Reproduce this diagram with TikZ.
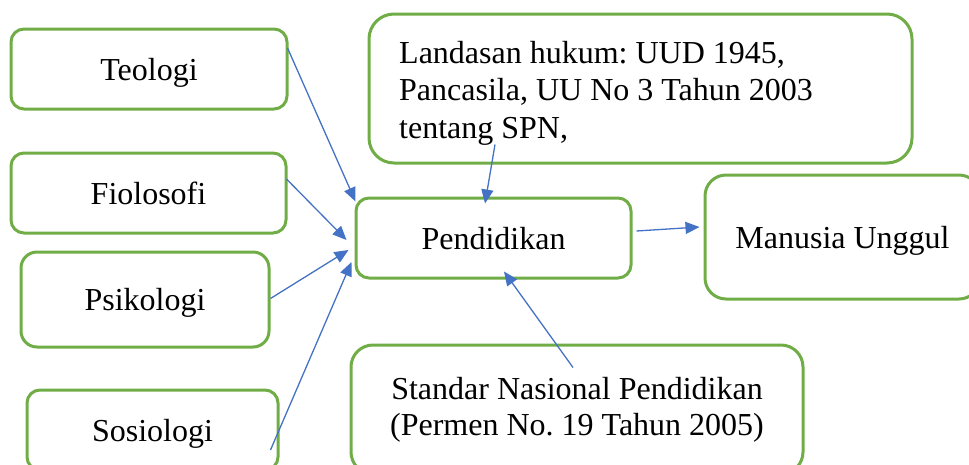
\documentclass[tikz,border=0pt]{standalone}
\usepackage{fontspec}
\setmainfont{Liberation Serif}
\usetikzlibrary{arrows.meta,calc}
\definecolor{boxgreen}{HTML}{70AD47}
\definecolor{linkblue}{HTML}{4472C4}
\frenchspacing
\begin{document}
\begin{tikzpicture}[x=1pt,y=-1pt,
  shapebox/.style={draw=boxgreen, line width=3pt, rounded corners=#1, inner sep=0pt,
    font=\fontsize{32}{36}\selectfont},
  shapebox/.default=13pt,
  oneline/.style={text height=29pt, text depth=7pt},
  conn/.style={draw=linkblue, line width=1.3pt, -{Triangle[length=14pt,width=12pt]}}]
\useasboundingbox (0,0) rectangle (969,464);
\clip (0,0) rectangle (969,464);

\node[shapebox=13pt, oneline, minimum width=276pt, minimum height=80pt] (teo) at (149,69) {Teologi};
\node[shapebox=13pt, oneline, minimum width=275pt, minimum height=80pt] (fio) at (148.5,193) {Fiolosofi};
\node[shapebox=16pt, oneline, minimum width=248pt, minimum height=95pt] (psi) at (145,299.5) {Psikologi};
\node[shapebox=13pt, oneline, minimum width=251pt, minimum height=80pt] (sos) at (152.5,430) {Sosiologi};
\node[shapebox=13pt, oneline, minimum width=275pt, minimum height=80pt] (pend) at (493.5,238) {Pendidikan};
\node[shapebox=21pt, oneline, minimum width=275pt, minimum height=124pt] (man) at (842.5,237) {Manusia Unggul};
\node[shapebox=25pt, minimum width=543pt, minimum height=149pt] (lan) at (640.5,88.5) {};
\node[anchor=north west, inner sep=0pt, align=left, font=\fontsize{32}{37.5}\selectfont] (lantext) at (399,41)
  {Landasan hukum: UUD 1945,\\Pancasila, UU No 3 Tahun 2003\\tentang SPN,};
\node[shapebox=22pt, minimum width=452pt, minimum height=129pt, align=center] (std) at (577,409.5)
  {Standar Nasional Pendidikan\\(Permen No. 19 Tahun 2005)};

\draw[conn] ($(teo.east)+(-1,-21)$) -- ($(pend.north west)+(1,5)$);
\draw[conn] ($(fio.east)+(-1,-14)$) -- ($(pend.west)+(-8,2)$);
\draw[conn] ($(psi.east)+(0,-1)$) -- ($(pend.west)+(-6,12)$);
\draw[conn] ($(sos.east)+(-9,20)$) -- ($(pend.west)+(-3,24)$);
\draw[conn] ($(lan.south)+(-145.5,-20)$) -- ($(pend.north)+(-8.5,7)$);
\draw[conn] ($(pend.east)+(4,-7)$) -- ($(man.west)+(-4,-10)$);
\draw[conn] ($(std.north)+(-4,24)$) -- ($(pend.south)+(10.5,-8)$);
\end{tikzpicture}
\end{document}
